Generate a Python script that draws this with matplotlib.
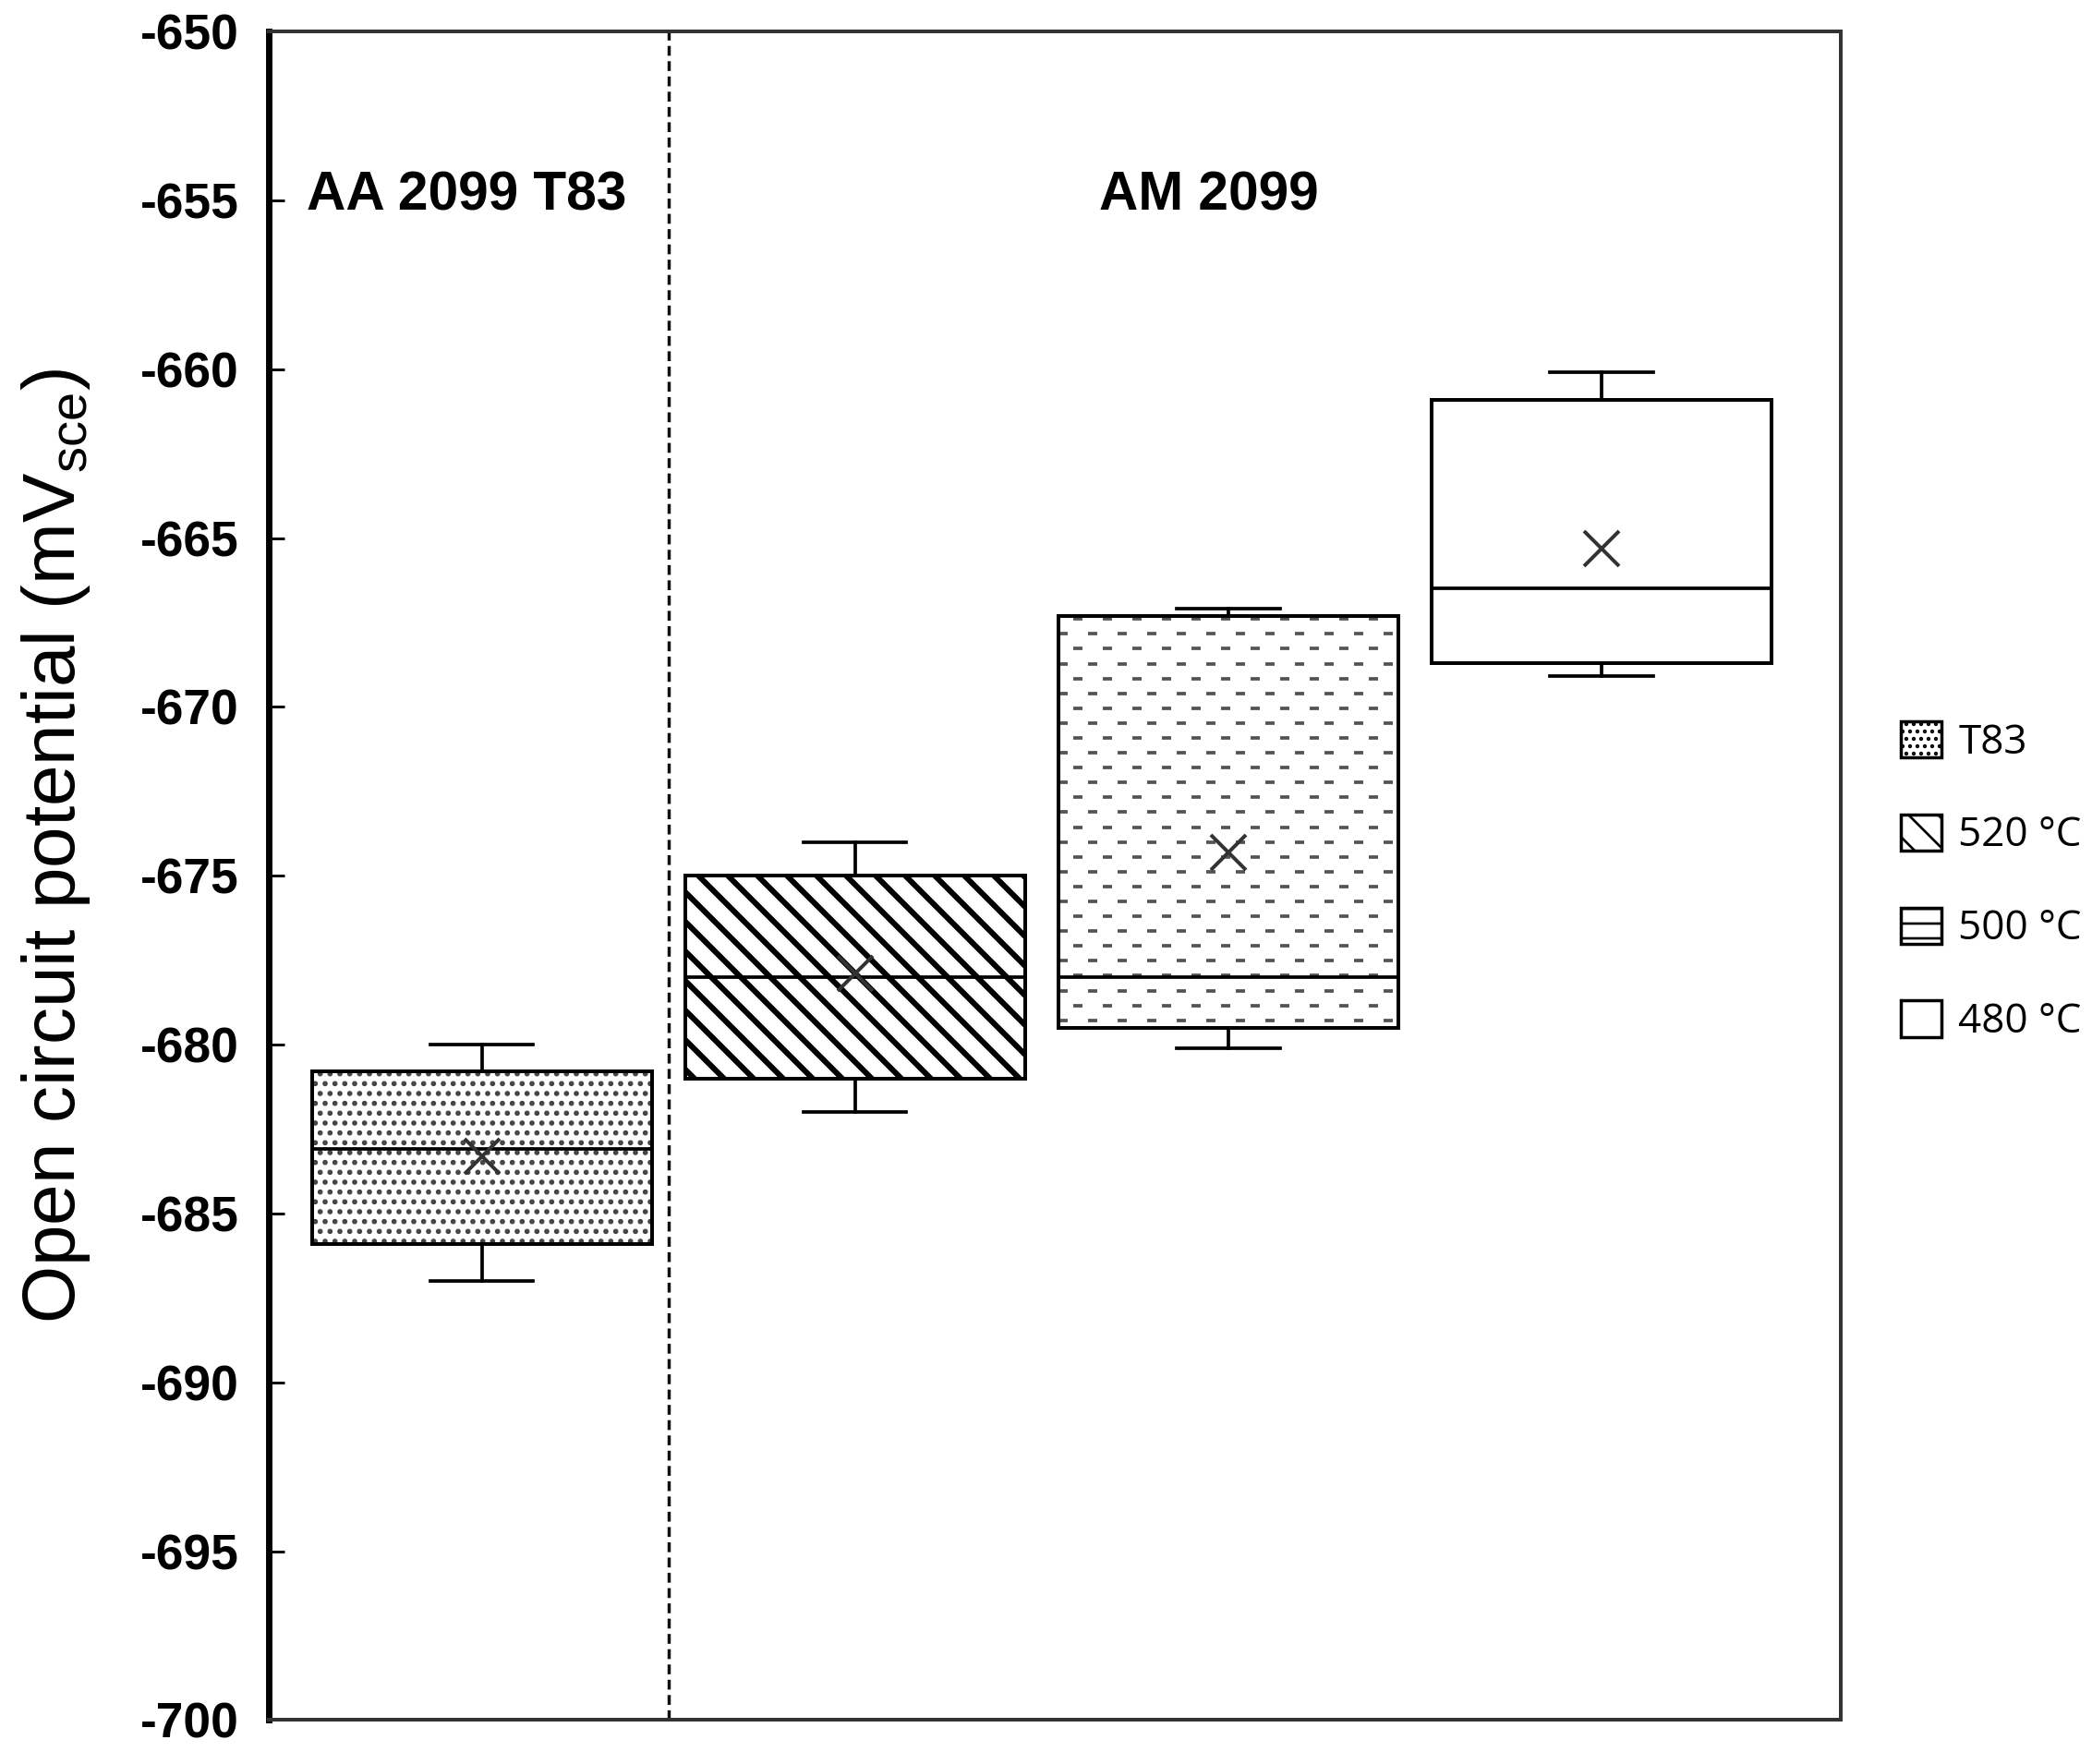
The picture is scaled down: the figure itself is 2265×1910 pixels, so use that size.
import numpy as np
import matplotlib
matplotlib.use('Agg')
import matplotlib.pyplot as plt
from matplotlib.patches import PathPatch, Patch

# open circuit potential summary (mV vs SCE), one box per condition
labels = ['T83', '520 °C', '500 °C', '480 °C']
whislo = [-687.0, -682.0, -680.1, -669.1]
q1 = [-685.9, -681.0, -679.5, -668.7]
med = [-683.1, -678.0, -678.0, -666.5]
q3 = [-680.8, -675.0, -667.3, -660.9]
whishi = [-680.0, -674.0, -667.1, -660.1]
means = [-683.3, -677.9, -674.3, -665.3]

group_labels = ['AA 2099 T83', 'AM 2099']
group_x = [0.958, 2.948]
yticks = np.arange(-700, -649, 5)

DPI = 192  # hatch spacing scales with dpi
plt.rcParams['font.family'] = 'Liberation Sans'
plt.rcParams['mathtext.fontset'] = 'custom'
plt.rcParams['mathtext.rm'] = 'Liberation Sans'
plt.rcParams['lines.scale_dashes'] = False
plt.rcParams['axes.unicode_minus'] = False

fig = plt.figure(figsize=(2265 / DPI, 1910 / DPI), dpi=DPI)
ax = fig.add_axes([0.1283, 0.0249, 0.7516, 0.9573])

pos = np.arange(1, 5)
width = 0.911
stats = [dict(whislo=a, q1=b, med=c, q3=d, whishi=e, mean=m, fliers=[], label=l)
         for a, b, c, d, e, m, l in zip(whislo, q1, med, q3, whishi, means, labels)]

bp = ax.bxp(stats, positions=pos, widths=width, capwidths=0.275,
            patch_artist=True, showmeans=True, manage_ticks=False, zorder=3,
            boxprops=dict(facecolor='none', edgecolor='black', linewidth=1.5),
            medianprops=dict(color='black', linewidth=1.4),
            whiskerprops=dict(color='black', linewidth=1.4),
            capprops=dict(color='black', linewidth=1.4),
            meanprops=dict(marker='x', markersize=14, markeredgecolor='#333333',
                           markeredgewidth=1.5))

# fills behind the box outlines
hatches = ['...', '\\\\', None, None]
hatch_colors = ['#444444', 'black', 'white', 'white']
hatch_lws = [1.3, 2.3, 1.0, 1.0]
for box, h, hc, hlw in zip(bp['boxes'], hatches, hatch_colors, hatch_lws):
    plt.rcParams['hatch.linewidth'] = hlw
    p = PathPatch(box.get_path(), facecolor='white', edgecolor=hc,
                  linewidth=0, hatch=h, zorder=2)
    if hasattr(p, 'set_hatch_linewidth'):
        p.set_hatch_linewidth(hlw)
    ax.add_patch(p)

# staggered dash pattern for the 500 °C box
i = 2
rows = np.arange(q1[i] + 0.22, q3[i], 0.44)
x0, x1 = pos[i] - width / 2, pos[i] + width / 2
for k, y in enumerate(rows):
    ax.plot([x0, x1], [y, y], color='#555555', lw=1.4,
            linestyle=(6.0 if k % 2 else 0.0, (3.75, 8.25)),
            dash_capstyle='butt', zorder=2.5)

ax.axvline(1.5, color='#111111', lw=1.3, linestyle=(0, (4.0, 2.2)), zorder=1)

for gx, gl in zip(group_x, group_labels):
    ax.text(gx, -655.3, gl, ha='center', va='baseline', fontsize=22, fontweight='bold')

ax.set_xlim(0.4275, 4.641)
ax.set_ylim(-700, -650)
ax.set_yticks(yticks)
ax.set_xticks([])
ax.tick_params(axis='y', direction='in', length=6.4, width=1.1, pad=12, labelsize=20)
for t in ax.get_yticklabels():
    t.set_fontweight('bold')
ax.spines['left'].set_linewidth(2.6)
ax.spines['left'].set_color('black')
for s in ['top', 'right', 'bottom']:
    ax.spines[s].set_linewidth(1.5)
    ax.spines[s].set_color('#333333')

fig.text(0.0269, 0.5204, r'Open circuit potential (mV$_{\mathregular{sce}}$)',
         rotation=90, ha='center', va='center', fontsize=30)

# legend
handles = []
leg_hatch = ['....', '\\\\', '--', None]
leg_lw = [1.0, 2.3, 1.0, 1.0]
for h, hlw in zip(leg_hatch, leg_lw):
    plt.rcParams['hatch.linewidth'] = hlw
    hp = Patch(facecolor='white', edgecolor='black', linewidth=1.3, hatch=h)
    if hasattr(hp, 'set_hatch_linewidth'):
        hp.set_hatch_linewidth(hlw)
    handles.append(hp)
fig.legend(handles, labels, loc='center left', bbox_to_anchor=(2058 / 2265, 0.5),
           frameon=False, prop={'family': 'Open Sans', 'size': 16.5},
           handlelength=1.0, handleheight=1.0, handletextpad=0.42,
           labelspacing=1.25, borderpad=0, borderaxespad=0)

fig.savefig('out.png', dpi=DPI)
